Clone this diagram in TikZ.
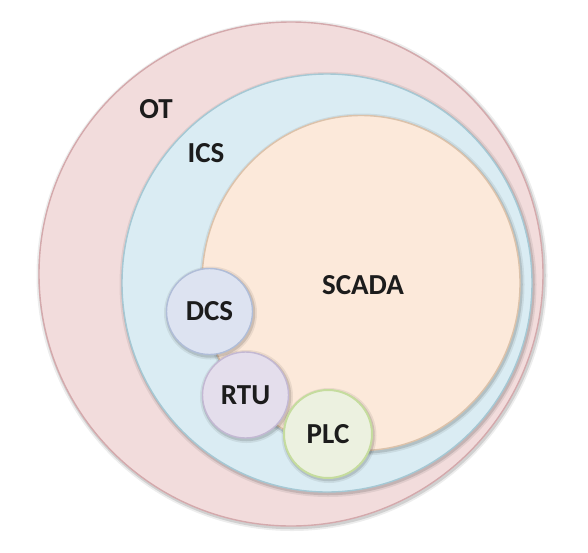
\documentclass[tikz,border=0pt]{standalone}
\usepackage{fontspec}
\setmainfont{Carlito}
\usetikzlibrary{shapes.geometric}
\definecolor{otfill}{HTML}{F2DCDC}
\definecolor{otdraw}{HTML}{D4A9AC}
\definecolor{icsfill}{HTML}{DAECF3}
\definecolor{icsdraw}{HTML}{A5C8D4}
\definecolor{scfill}{HTML}{FCE9DA}
\definecolor{scdraw}{HTML}{DCC2AA}
\definecolor{dcsfill}{HTML}{DDE3F1}
\definecolor{dcsdraw}{HTML}{B0BDD8}
\definecolor{rtufill}{HTML}{E4DEEC}
\definecolor{rtudraw}{HTML}{C3B8D3}
\definecolor{plcfill}{HTML}{ECF1E0}
\definecolor{plcdraw}{HTML}{C5DC9E}
\definecolor{txt}{HTML}{1C1C1C}
\begin{document}
\begin{tikzpicture}[x=1pt,y=-1pt,
  shad/.style={
    preaction={draw=black, draw opacity=0.07, line width=7pt, transform canvas={xshift=1pt,yshift=-1.5pt}},
    preaction={draw=black, draw opacity=0.12, line width=3.5pt, transform canvas={xshift=1pt,yshift=-1.5pt}}},
  disc/.style={circle, inner sep=0pt, shad, line width=1.4pt},
  oval/.style={ellipse, inner sep=0pt, shad, line width=1.4pt},
  lbl/.style={font=\bfseries\fontsize{29}{31}\selectfont, text=txt, inner sep=0pt}]
\useasboundingbox (0,0) rectangle (588,552);
\node[disc, fill=otfill, draw=otdraw, minimum size=504pt] (ot) at (291,274) {};
\node[oval, fill=icsfill, draw=icsdraw, minimum width=410pt, minimum height=418pt] (ics) at (327,283) {};
\node[oval, fill=scfill, draw=scdraw, minimum width=318pt, minimum height=335pt] (scada) at (361,283) {};
\node[disc, fill=dcsfill, draw=dcsdraw, minimum size=86pt, lbl] (dcs) at (209.5,311.5) {DCS};
\node[disc, fill=rtufill, draw=rtudraw, minimum size=86pt, lbl] (rtu) at (245.5,395) {RTU};
\node[disc, fill=plcfill, draw=plcdraw, line width=2pt, minimum size=88pt, lbl] (plc) at (328,434) {PLC};
\node[lbl] (otl) at (156,109) {OT};
\node[lbl] (icsl) at (206,153) {ICS};
\node[lbl] (scl) at (363,285) {SCADA};
\end{tikzpicture}
\end{document}
